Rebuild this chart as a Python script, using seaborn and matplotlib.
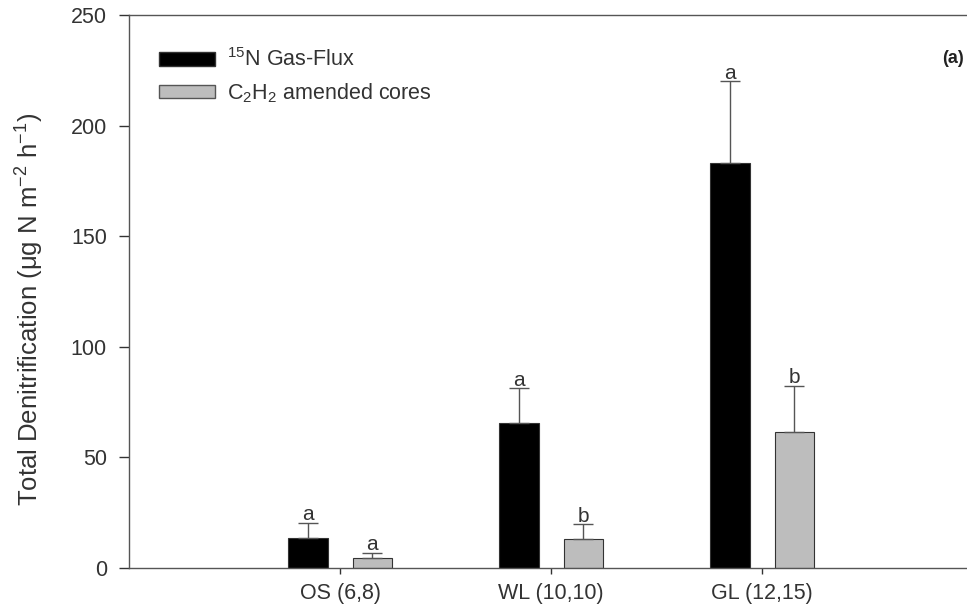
import matplotlib
matplotlib.use("Agg")
import matplotlib.pyplot as plt
import seaborn as sns
import pandas as pd
import numpy as np
from matplotlib.patches import Patch

sites = ["OS (6,8)", "WL (10,10)", "GL (12,15)"]
methods = ["15N", "C2H2"]
flux_vals = [13.5, 65.5, 183.0]
flux_err = [7.0, 16.0, 37.0]
c2h2_vals = [4.5, 13.0, 61.5]
c2h2_err = [2.5, 7.0, 21.0]
flux_letters = ["a", "a", "a"]
c2h2_letters = ["a", "b", "b"]
yticks = [0, 50, 100, 150, 200, 250]

sns.set_theme(style="ticks")
plt.rcParams["font.family"] = ["Liberation Sans", "DejaVu Sans"]
plt.rcParams["mathtext.fontset"] = "custom"
plt.rcParams["mathtext.rm"] = "Liberation Sans"
plt.rcParams["mathtext.it"] = "Liberation Sans:italic"
plt.rcParams["mathtext.bf"] = "Liberation Sans:bold"

df = pd.DataFrame({
    "site": sites * 2,
    "method": [methods[0]] * 3 + [methods[1]] * 3,
    "value": flux_vals + c2h2_vals,
})

fig = plt.figure(figsize=(9.67, 6.13), dpi=100)
ax = fig.add_axes([0.1334, 0.0734, 0.873, 0.9021])

colors = {"15N": "#000000", "C2H2": "#bdbdbd"}
sns.barplot(data=df, x="site", y="value", hue="method", order=sites,
            hue_order=methods, palette=colors, width=0.608, gap=0.39,
            edgecolor="#333333", linewidth=0.8, errorbar=None, legend=False, ax=ax)

# error bars and letters
bars = ax.patches[:6]
groups = [(flux_vals, flux_err, flux_letters), (c2h2_vals, c2h2_err, c2h2_letters)]
for gi, (vals, errs, letters) in enumerate(groups):
    for i in range(3):
        b = bars[gi * 3 + i]
        xc = b.get_x() + b.get_width() / 2
        ax.errorbar([xc], [vals[i]], yerr=[[0], [errs[i]]], fmt="none",
                    ecolor="#555555", elinewidth=1.0, capsize=7.5, capthick=1.0)
        ax.text(xc, vals[i] + errs[i] - 0.8, letters[i], ha="center", va="bottom",
                fontsize=15, color="#333333")

ax.set_xlim(-1.0, 3.0)
ax.set_ylim(0, 250)
ax.set_yticks(yticks)
ax.set_xlabel("")
ax.set_ylabel("Total Denitrification (μg N m$^{-2}$ h$^{-1}$)", fontsize=18.5,
              color="#333333")
ax.yaxis.set_label_coords(-0.098, 0.467)
ax.tick_params(axis="y", labelsize=15.5, colors="#333333", direction="out",
               length=7, width=1, pad=9)
ax.tick_params(axis="x", labelsize=15.5, colors="#333333", direction="out",
               length=4, width=1, pad=7)
for s in ax.spines.values():
    s.set_color("#555555")
    s.set_linewidth(1.0)
    s.set_visible(True)

handles = [Patch(facecolor="#000000", edgecolor="#333333", label="$^{15}$N Gas-Flux"),
           Patch(facecolor="#bdbdbd", edgecolor="#555555", label="C$_2$H$_2$ amended cores")]
ax.legend(handles=handles, loc="upper left", bbox_to_anchor=(0.025, 0.955),
          frameon=False, fontsize=15.5, handlelength=2.6, handleheight=0.6,
          handletextpad=0.55, labelspacing=0.45, borderaxespad=0,
          labelcolor="#333333")

fig.text(0.997, 0.89, "(a)", ha="right", va="bottom",
         fontsize=13, fontweight="bold", color="#222222")

fig.savefig("out.png", dpi=100)
